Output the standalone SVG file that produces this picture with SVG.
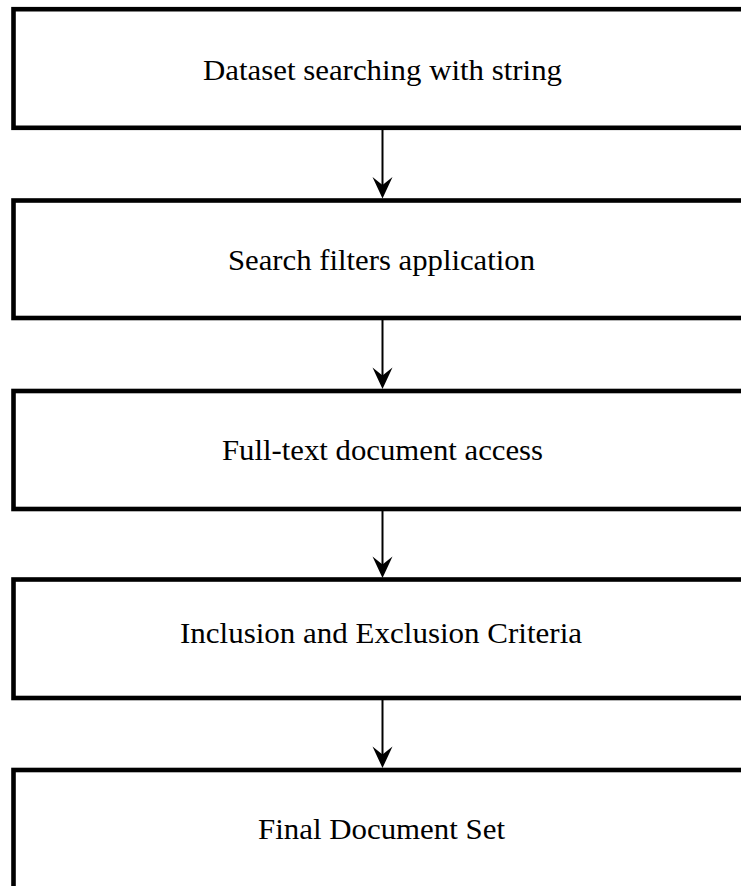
<svg xmlns="http://www.w3.org/2000/svg" width="741" height="886" viewBox="0 0 741 886">
<style>
.box{fill:#fff;stroke:#000;stroke-width:4.6}
.lbl{font-family:"Liberation Serif","Times New Roman",Times,serif;font-size:30px;fill:#000;text-anchor:middle}
.conn line{stroke:#000;stroke-width:2}
.conn path{fill:#000;stroke:none}
</style>
<rect width="741" height="886" fill="#fff"/>
<g id="node1">
<rect class="box" x="13.5" y="9.2" width="740" height="118.6"/>
<text class="lbl" x="382.5" y="80" textLength="359" lengthAdjust="spacingAndGlyphs">Dataset searching with string</text>
</g>
<g id="node2">
<rect class="box" x="13.5" y="200.5" width="740" height="117.5"/>
<text class="lbl" x="381.5" y="270" textLength="307" lengthAdjust="spacingAndGlyphs">Search filters application</text>
</g>
<g id="node3">
<rect class="box" x="13.5" y="391" width="740" height="118"/>
<text class="lbl" x="382.5" y="460" textLength="321" lengthAdjust="spacingAndGlyphs">Full-text document access</text>
</g>
<g id="node4">
<rect class="box" x="13.5" y="579.5" width="740" height="118.5"/>
<text class="lbl" x="381" y="643" textLength="402" lengthAdjust="spacingAndGlyphs">Inclusion and Exclusion Criteria</text>
</g>
<g id="node5">
<rect class="box" x="13.5" y="770" width="740" height="130"/>
<text class="lbl" x="381.5" y="839" textLength="247" lengthAdjust="spacingAndGlyphs">Final Document Set</text>
</g>
<g id="connectors" class="conn">
<line x1="382.5" y1="130" x2="382.5" y2="188"/>
<path d="M382.5,198.5 L372.5,177 L382.5,185 L392.5,177 Z"/>
<line x1="382.5" y1="320" x2="382.5" y2="378"/>
<path d="M382.5,389 L372.5,367.5 L382.5,375.5 L392.5,367.5 Z"/>
<line x1="382.5" y1="511" x2="382.5" y2="568"/>
<path d="M382.5,578 L372.5,556.5 L382.5,564.5 L392.5,556.5 Z"/>
<line x1="382.5" y1="700" x2="382.5" y2="758"/>
<path d="M382.5,768 L372.5,746.5 L382.5,754.5 L392.5,746.5 Z"/>
</g>
</svg>
